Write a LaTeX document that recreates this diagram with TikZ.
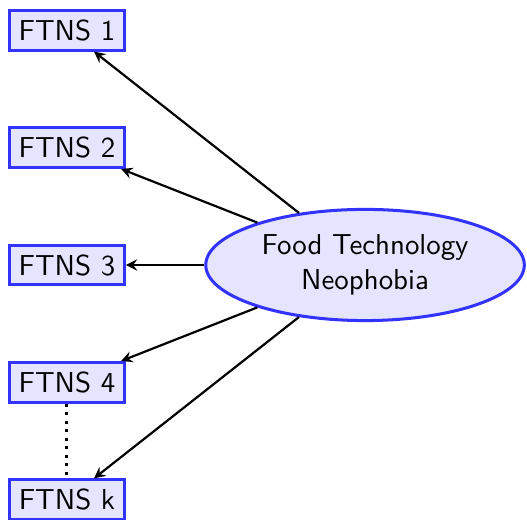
\documentclass[tikz,border=0pt]{standalone}
\usetikzlibrary{shapes.geometric}
\begin{document}
\begin{tikzpicture}[font = \sffamily\fontsize{10.5pt}{12.6pt}\selectfont,
  item/.style = {draw = blue!80, fill = blue!10, line width = 1.1pt, rectangle},
  factor/.style = {draw = blue!80, fill = blue!10, line width = 1.1pt, ellipse, align = center},
  load/.style = {-stealth, line width = 0.8pt}]
\useasboundingbox (-0.856, -3.259) rectangle (5.88, 3.387);
\node[item] (f1) at (0.0, 3.0) {FTNS 1};
\node[item] (f2) at (0.0, 1.5) {FTNS 2};
\node[item] (f3) at (0.0, 0.0) {FTNS 3};
\node[item] (f4) at (0.0, -1.5) {FTNS 4};
\node[item] (fk) at (0.0, -3.0) {FTNS k};
\node[factor] (ftn) at (3.81, 0.0) {Food Technology\\Neophobia};
\draw[load] (ftn) -- (f1);
\draw[load] (ftn) -- (f2);
\draw[load] (ftn) -- (f3);
\draw[load] (ftn) -- (f4);
\draw[load] (ftn) -- (fk);
\draw[line width = 1.1pt, dotted] (f4) -- (fk);
\end{tikzpicture}
\end{document}
